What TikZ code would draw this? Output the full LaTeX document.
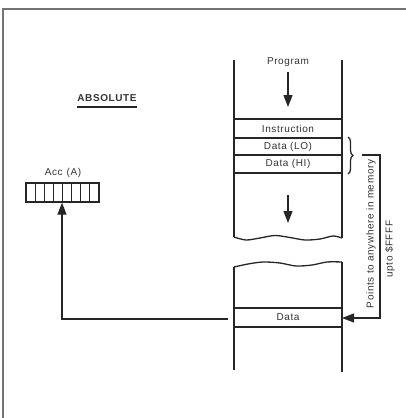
\documentclass[tikz,border=0pt]{standalone}
\usepackage{fontspec}
\setmainfont{Liberation Sans}
\newfontfamily\labfont[LetterSpace=6]{Liberation Sans}
\usetikzlibrary{arrows.meta,decorations.pathreplacing}
\begin{document}
\begin{tikzpicture}[x=1pt,y=-1pt,
  line/.style={line width=1.3pt, draw=black!85},
  thin line/.style={line width=1.1pt, draw=black!85},
  lab/.style={font=\labfont\fontsize{10}{11}\selectfont, text=black!80, inner sep=0pt},
  tip/.style={-{Triangle[length=12pt,width=9pt]}},
  frame/.style={line width=1.8pt, draw=black!55},
]
\useasboundingbox (0,0) rectangle (406,418);
% page frame
\draw[frame] (3,418) -- (3,9) -- (406,9);

% ABSOLUTE label
\node[lab, font=\labfont\bfseries\fontsize{10}{11}\selectfont] (abs) at (107,98) {ABSOLUTE};
\draw[line width=1.6pt, draw=black!85] ([yshift=-5pt]abs.south west) -- ([yshift=-5pt]abs.south east);

% accumulator
\node[lab] (acclab) at (63,173) {Acc\hspace{4pt}(A)};
\node[draw=black!85, line width=1.3pt, minimum width=73pt, minimum height=19pt, inner sep=0pt] (acc) at (62.5,192.5) {};
\foreach \i in {1,...,7} \draw[thin line] ({26+\i*9.125},183) -- ({26+\i*9.125},202);

% memory column
\draw[line] (234,60) -- (234,237);
\draw[line] (342,60) -- (342,238);
\draw[line] plot[smooth] coordinates {(234,237) (246,240) (260,238) (275,235.5) (290,237.5) (305,240) (320,239) (333,236) (342,238)};
\draw[line] plot[smooth] coordinates {(234,267) (248,264) (263,262) (280,263) (296,266) (312,265) (327,262) (342,262)};
\draw[line] (234,267) -- (234,370);
\draw[line] (342,262) -- (342,372);
\foreach \y in {119,138,155,173,308,327} \draw[line] (234,\y) -- (342,\y);

\node[lab] (prog) at (288,62) {Program};
\node[lab] (instr) at (288,128.5) {Instruction};
\node[lab] (dlo) at (288,146.5) {Data (LO)};
\node[lab] (dhi) at (288,164) {Data (HI)};
\node[lab] (data) at (288,317.5) {Data};

\coordinate (p1) at (288,107);
\draw[line, tip, shorten <=5pt] (prog) -- (p1);
\coordinate (d1) at (288,195);
\coordinate (d2) at (288,223);
\draw[line, tip] (d1) -- (d2);

% brace and pointer
\draw[line, decorate, decoration={brace, amplitude=5pt}] (348,137) -- (348,174);
\coordinate (b1) at (362,155);
\coordinate (b2) at (380,155);
\coordinate (b3) at (380,318);
\coordinate (b4) at (342,318);
\draw[line, tip] (b1) -- (b2) -- (b3) -- (b4);
\node[lab, rotate=90] (pts) at (371,234) {Points to anywhere in memory};
\node[lab, rotate=90] (upto) at (390,249) {upto \$FFFF};

% data to accumulator
\coordinate (a1) at (228,319);
\coordinate (a2) at (62,319);
\draw[line, tip] (a1) -- (a2) -- (acc.south -| a2);
\end{tikzpicture}
\end{document}
